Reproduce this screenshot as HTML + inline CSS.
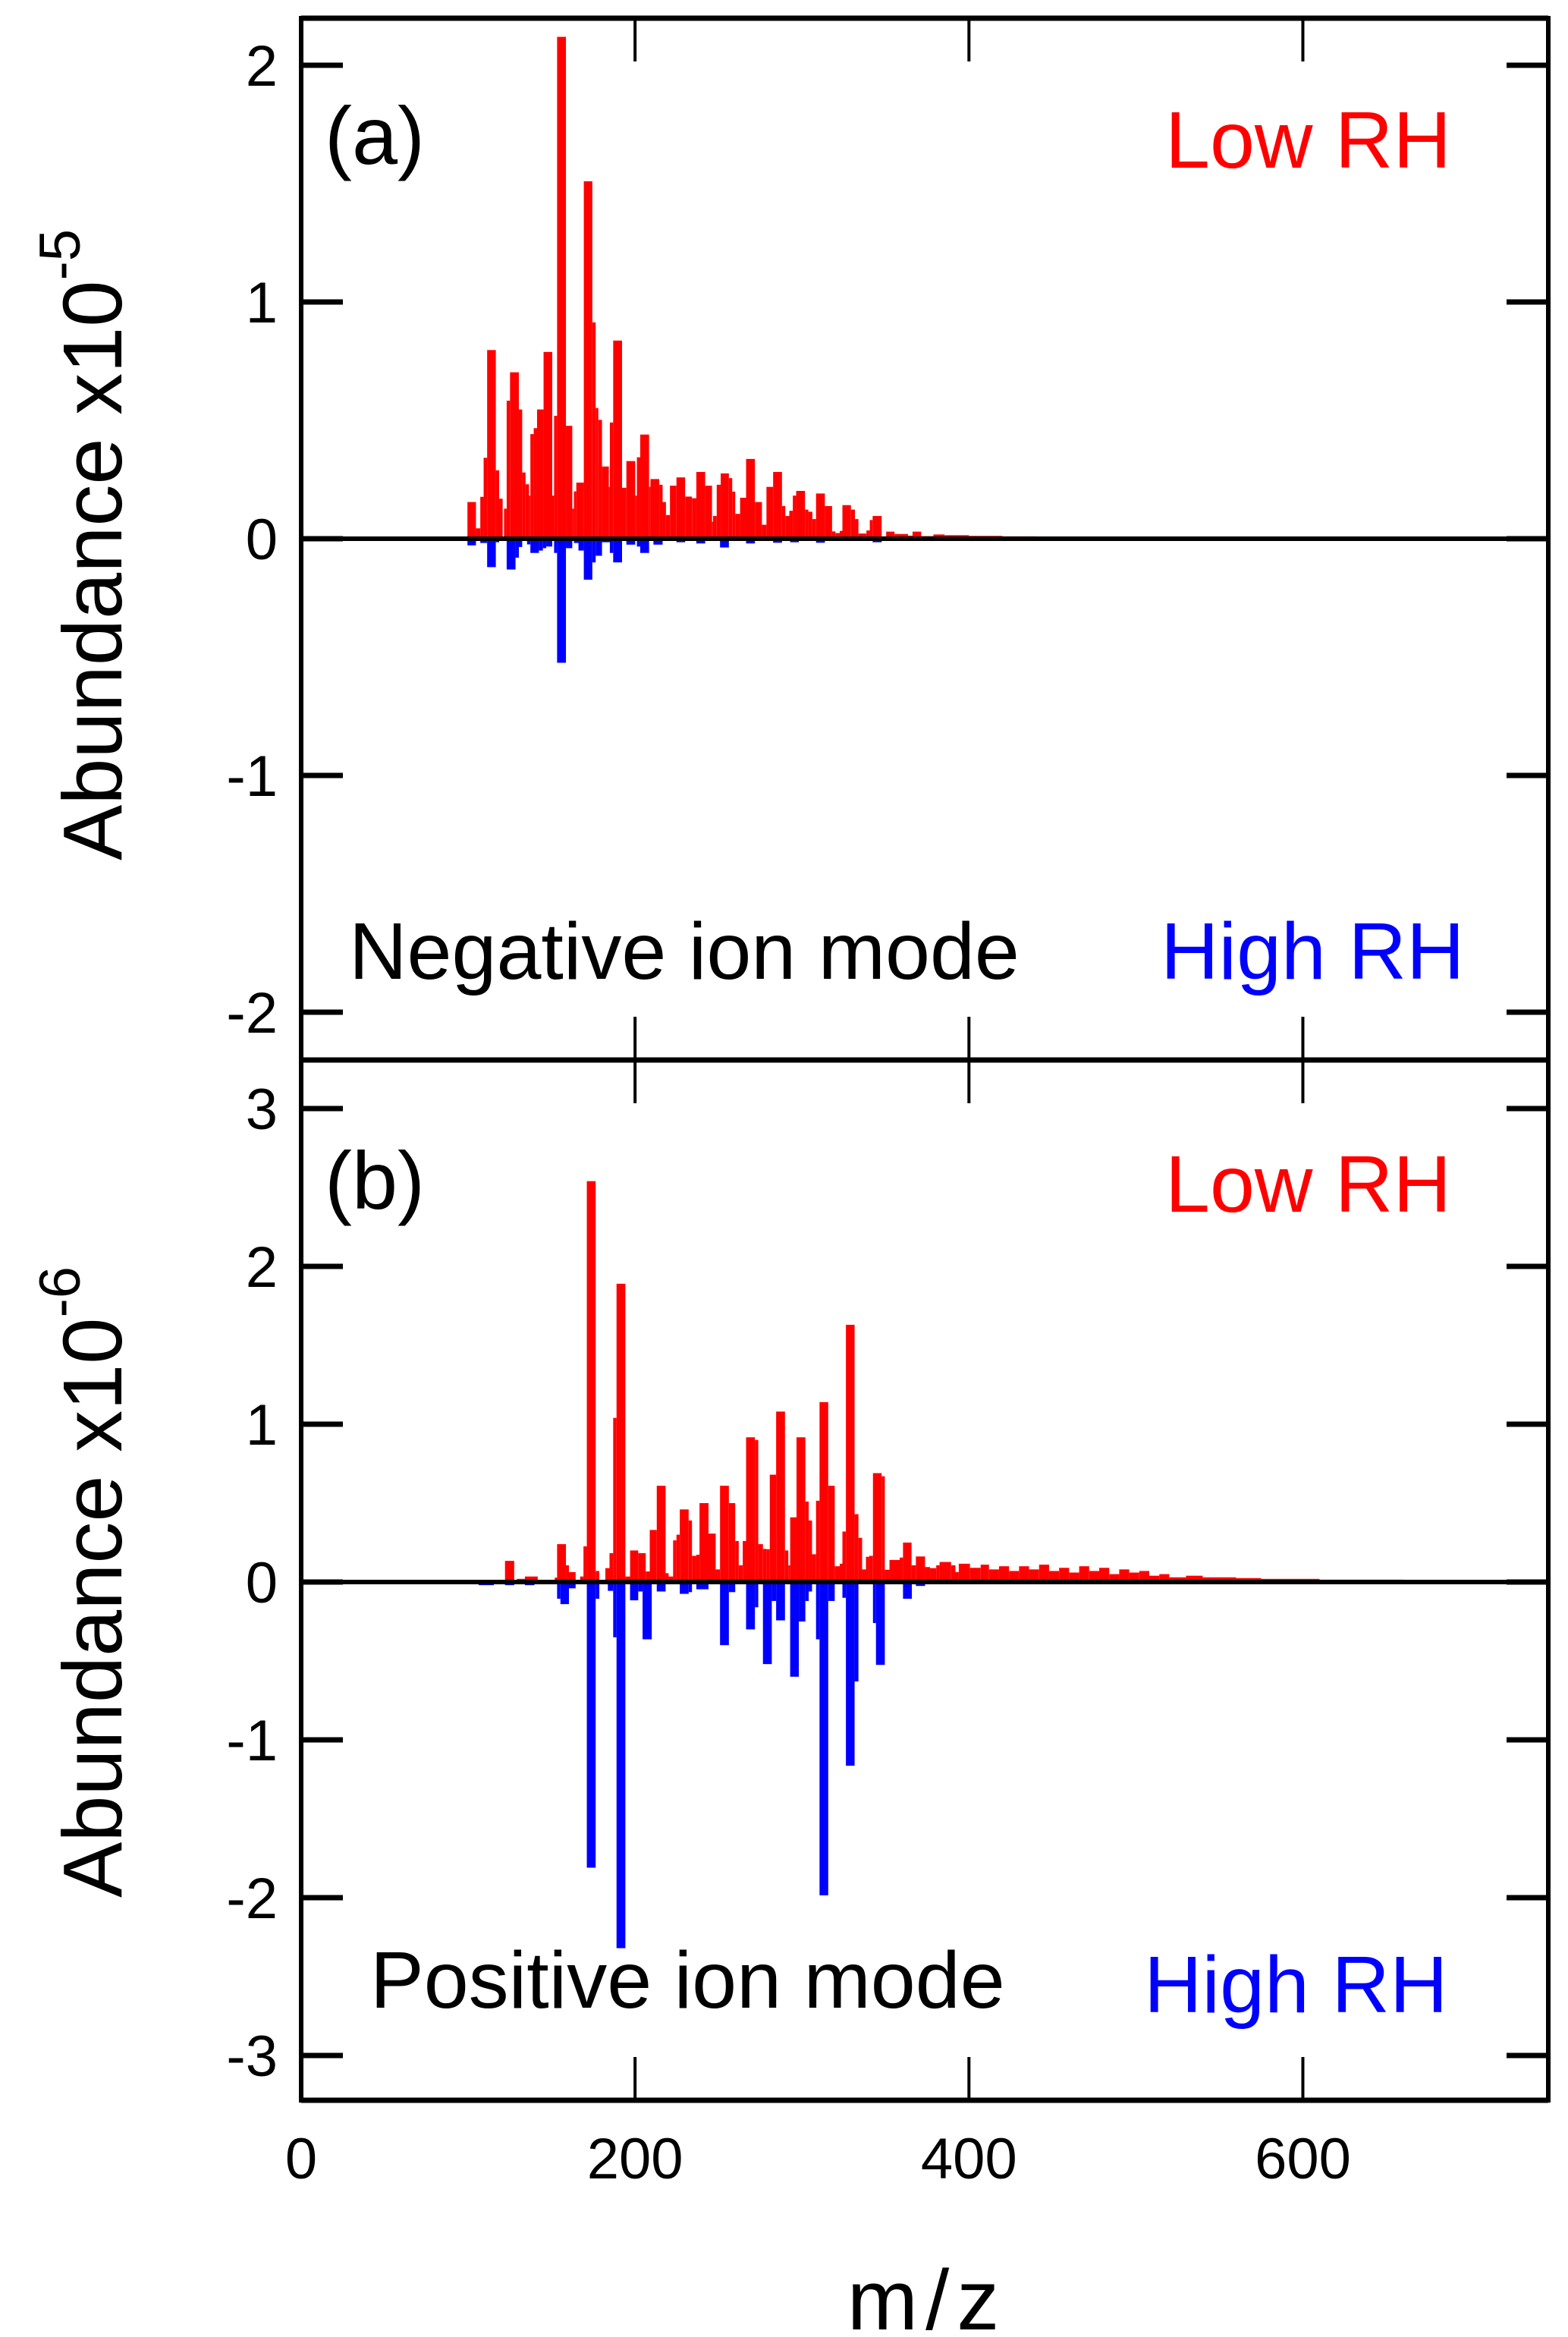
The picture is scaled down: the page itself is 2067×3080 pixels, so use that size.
<!DOCTYPE html>
<html><head><meta charset="utf-8"><style>
html,body{margin:0;padding:0;background:#fff;}
svg{display:block;font-family:"Liberation Sans",Arial,sans-serif;}
</style></head><body>
<svg id="chart" width="2067" height="3080" viewBox="0 0 2067 3080" xmlns="http://www.w3.org/2000/svg">
<g id="bars"></g>
<g id="axes"></g>
<text x="428" y="216" font-size="108">(a)</text>
<text x="1536" y="221" font-size="106" fill="#ff0000">Low RH</text>
<text x="460" y="1290" font-size="106">Negative ion mode</text>
<text x="1530" y="1290" font-size="106" fill="#0000ff">High RH</text>
<text x="428" y="1593" font-size="108">(b)</text>
<text x="1536" y="1597" font-size="106" fill="#ff0000">Low RH</text>
<text x="488" y="2646" font-size="106">Positive ion mode</text>
<text x="1508" y="2652" font-size="106" fill="#0000ff">High RH</text>
<text transform="translate(160,718) rotate(-90)" text-anchor="middle" font-size="110">Abundance x10<tspan dy="-55" font-size="76">-5</tspan></text>
<text transform="translate(160,2085) rotate(-90)" text-anchor="middle" font-size="110">Abundance x10<tspan dy="-55" font-size="76">-6</tspan></text>
<text x="1222" y="3070" text-anchor="middle" font-size="112" letter-spacing="10">m/z</text>
</svg>
<script>
// ---- data ----
const edgesLowA = [99.6,104.7,107.3,109.3,111.4,116.6,118.6,120.7,121.5,123.1,125.1,130.4,132.4,134.4,136.5,137.3,139.3,141.3,145.2,150.4,151.5,153.3,158.6,162.4,163.4,164.8,169.3,174.4,176.4,178,180.2,184.3,184.9,186.9,192.2,194.8,200.1,201.1,203.1,208.4,209.2,214.5,216.5,218.5,220.9,224.8,230,234.1,236.7,242,246.1,246.7,248.9,251.3,256.2,258.2,260,262.9,266.5,271.8,276,278.7,282.7,288,290,292.4,294.5,296.5,301.8,303.8,306.2,308.4,313.7,318,320,322.6,324.2,329.3,331.7,333.8,338.6,340.6,342.3,347.7,350.4,355.4,363.5,366.2,371.4,378.7,385.4,400,420,440,460,480,500,510];
const lowA = [.155,.044,.177,.342,.797,.289,.169,0,.127,.583,.703,.546,.28,.23,.182,.442,.467,.546,.789,.182,.519,2.12,.477,.127,.2,.237,1.51,.914,.552,.502,.305,.219,.491,.837,.215,.328,.182,.344,.44,.219,.252,.228,.155,.1,.224,.259,.178,.171,.282,.224,.072,.096,.228,.276,.256,.199,.105,.173,.337,.155,.059,.219,.282,.138,.096,.118,.182,.202,.123,.114,.083,.191,.138,.031,.024,.033,.142,.123,.083,.022,.035,.079,.096,.01,.03,.02,.013,.03,.011,.018,.015,.012,.01,.008,.006,.005,.003];
const highALo = [99.6,107.3,111.4,116.6,123.1,128.4,130.4,135.3,137.3,142.4,144.8,146.8,151.5,153.3,158.6,163.4,166.1,169.3,174.4,176.4,180.2,184.9,186.9,194.8,201.1,203.1,211,224.8,236.7,250.9,266.5,282.7,292.9,308.4,342.3];
const highAHi = [104.7,111.4,116.6,118.6,128.4,130.4,132.4,137.3,142.4,144.8,146.8,150.4,153.3,158.6,162.4,166.1,169.3,174.4,176.4,180.2,184.9,186.9,192.2,200.1,203.1,208.4,216.5,230,242,256.2,271.8,288,298.1,313.7,347.7];
const highA = [-.028,-.018,-.12,-.015,-.13,-.08,-.035,-.024,-.06,-.05,-.04,-.033,-.06,-.524,-.04,-.018,-.05,-.173,-.1,-.072,-.015,-.06,-.1,-.025,-.033,-.06,-.025,-.015,-.02,-.037,-.02,-.017,-.015,-.017,-.015];

const edgesLowB = [106.3,109.3,118.4,122.1,127.6,129.2,134,141.7,151.9,153.3,158.6,160.4,164.4,167.1,169.1,171.1,176.4,178.6,182.2,184.7,186.9,188.9,194.2,197,201.9,206.4,208.8,213,218.3,220.1,222.8,224.8,226.8,232.1,234.1,236.7,238.6,244,248.3,250.9,256.2,260,262.1,264.5,266.5,271.8,273.8,276.6,278.7,280.7,284.5,289.8,291.8,292.9,296.7,302,304,306,308.4,310.5,315.7,319.6,322.6,324.2,326.3,331.5,333.8,336,338.3,340.3,342.5,347.7,349.6,352.4,358.5,360.5,365.6,368.2,373.7,376.7,380.4,382.4,389.3,391.9,393.9,400.6,407,412,418,424,430,436,442,448,454,460,466,472,478,484,490,496,502,508,514,520,530,540,550,560,575,590,610,630,660,700,740];
const lowB = [.007,.003,.014,.134,.005,.02,.035,.014,.028,.24,.106,.063,.01,.035,.226,2.54,.07,.01,.088,.183,1.04,1.89,.035,.2,.183,.067,.33,.61,.056,.035,.264,.3,.46,.39,.166,.173,.5,.307,.08,.61,.5,.26,.106,.26,.917,.9,.24,.21,.208,.68,1.08,.2,.106,.41,.917,.51,.39,.176,.515,1.14,.61,.1,.116,.32,1.63,.43,.28,.08,.16,.166,.69,.67,.078,.14,.155,.25,.106,.162,.095,.088,.106,.127,.106,.063,.116,.09,.11,.08,.1,.07,.1,.08,.11,.07,.09,.06,.1,.07,.09,.05,.08,.06,.07,.04,.05,.03,.04,.03,.03,.025,.02,.02,.015,.015,.012,.01];
const highBLo = [106.3,122.1,134,153.3,155.3,160.4,171.1,176.4,183.7,186.9,188.9,197,201.9,204.5,213,226.8,232.1,236.7,250.9,256.2,266.5,271.8,276.6,281.9,284.5,292.9,298.1,302,304,308.4,310.5,315.7,324.2,326.3,331.5,342.5,344.3,360.5,368.2];
const highBHi = [115.4,127.6,139.7,155.3,160.4,164.4,176.4,178.6,186.9,188.9,194.2,201.9,204.5,210,218.3,232.1,234.1,244,256.2,260,271.8,273.8,281.9,284.5,289.8,298.1,302,304,306,310.5,315.7,319.6,326.3,331.5,333.8,344.3,349.6,365.8,373.7];
const highB = [-.02,-.02,-.02,-.106,-.14,-.04,-1.81,-.106,-.056,-.35,-2.32,-.116,-.06,-.363,-.06,-.075,-.064,-.046,-.4,-.064,-.30,-.16,-.52,-.12,-.243,-.6,-.25,-.12,-.06,-.363,-1.985,-.12,-.1,-1.164,-.63,-.26,-.525,-.106,-.025];

const xTicks = [0,200,400,600];
const yTicksA = [2,1,0,-1,-2];
const yTicksB = [3,2,1,0,-1,-2,-3];

// ---- scales ----
const X0 = 397, X1 = 2041, XMAX = 747;
const xs = v => X0 + (v / XMAX) * (X1 - X0);
const ysA = v => 710 - v * 312;
const ysB = v => 2085 - v * 208;
const NS = 'http://www.w3.org/2000/svg';
const barsG = document.getElementById('bars');
const axesG = document.getElementById('axes');

function rect(g, x0, x1, y0, y1, fill) {
  const r = document.createElementNS(NS, 'rect');
  r.setAttribute('x', Math.min(x0, x1));
  r.setAttribute('y', Math.min(y0, y1));
  r.setAttribute('width', Math.max(Math.abs(x1 - x0), 0.5));
  r.setAttribute('height', Math.abs(y1 - y0));
  r.setAttribute('fill', fill);
  g.appendChild(r);
  return r;
}
function line(g, x1, y1, x2, y2, w) {
  const l = document.createElementNS(NS, 'line');
  l.setAttribute('x1', x1); l.setAttribute('y1', y1);
  l.setAttribute('x2', x2); l.setAttribute('y2', y2);
  l.setAttribute('stroke', '#000'); l.setAttribute('stroke-width', w);
  g.appendChild(l);
  return l;
}
function text(g, x, y, s, anchor) {
  const t = document.createElementNS(NS, 'text');
  t.setAttribute('x', x); t.setAttribute('y', y);
  t.setAttribute('font-size', '76');
  t.setAttribute('text-anchor', anchor);
  t.textContent = s;
  g.appendChild(t);
  return t;
}
function drawEdges(edges, vals, ys, fill, name) {
  const n = Math.min(edges.length - 1, vals.length);
  for (let i = 0; i < n; i++) {
    const r = rect(barsG, xs(edges[i]), xs(edges[i + 1]), ys(0), ys(vals[i]), fill);
    
    
  }
}
function drawLoHi(lo, hi, vals, ys, fill, name) {
  const n = Math.min(lo.length, hi.length, vals.length);
  for (let i = 0; i < n; i++) {
    const r = rect(barsG, xs(lo[i]), xs(hi[i]), ys(0), ys(vals[i]), fill);
    
    
  }
}
drawEdges(edgesLowA, lowA, ysA, '#ff0000', 'low-rh-bar-a');
drawLoHi(highALo, highAHi, highA, ysA, '#0000ff', 'high-rh-bar-a');
drawEdges(edgesLowB, lowB, ysB, '#ff0000', 'low-rh-bar-b');
drawLoHi(highBLo, highBHi, highB, ysB, '#0000ff', 'high-rh-bar-b');

// zero lines
let z = line(axesG, X0, ysA(0), X1, ysA(0), 6);


z = line(axesG, X0, ysB(0), X1, ysB(0), 6);



// frames
const TOP = 24, MID = 1397, BOT = 2768;
let f = line(axesG, X0, TOP, X1, TOP, 7);  
f = line(axesG, X0, MID, X1, MID, 7);  
f = line(axesG, X0, BOT, X1, BOT, 7);  
f = line(axesG, X0, TOP - 3, X0, BOT + 3, 6);  
f = line(axesG, X1, TOP - 3, X1, BOT + 3, 6);  

// x ticks
xTicks.forEach(v => {
  const x = xs(v);
  if (v > 0) {
    let t = line(axesG, x, TOP, x, TOP + 57, 4);  
    t = line(axesG, x, MID - 57, x, MID + 57, 4);  
    t = line(axesG, x, BOT - 57, x, BOT, 4);  
  }
  const lb = text(axesG, x, 2871, String(v), 'middle');
  
  
});
// y ticks
function yTicks(ticks, ys, name) {
  ticks.forEach(v => {
    const y = ys(v);
    let t = line(axesG, X0, y, X0 + 55, y, 7);  
    t = line(axesG, X1 - 55, y, X1, y, 7);  
    const lb = text(axesG, 366, y + 27, String(v), 'end');
    
    
  });
}
yTicks(yTicksA, ysA, 'y-a');
yTicks(yTicksB, ysB, 'y-b');
</script>
</body></html>
